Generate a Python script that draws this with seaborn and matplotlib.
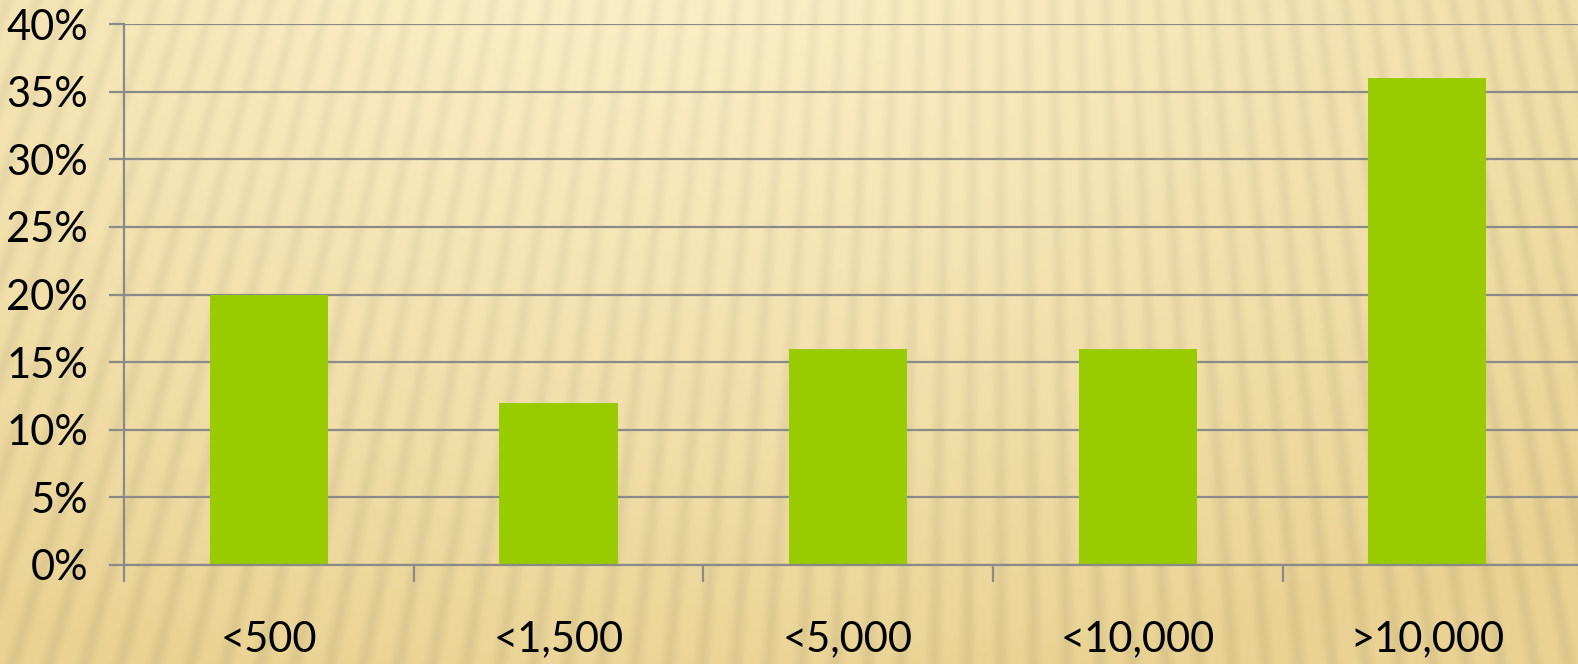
import numpy as np
import pandas as pd
import matplotlib
matplotlib.use("Agg")
import matplotlib.pyplot as plt
import seaborn as sns

# Share of accounts by size bucket
categories = ["<500", "<1,500", "<5,000", "<10,000", ">10,000"]
shares = [20, 12, 16, 16, 36]
y_ticks = [0, 5, 10, 15, 20, 25, 30, 35, 40]
y_tick_labels = [f"{v}%" for v in y_ticks]

sns.set_theme(style="white")
plt.rcParams["font.family"] = ["Lato", "DejaVu Sans"]

W, H = 1578, 664
fig = plt.figure(figsize=(W / 100, H / 100), dpi=100)

# Textured parchment-style backdrop: soft radial gradient with fanned stripes
yy, xx = np.mgrid[0:H, 0:W].astype(float)
t = np.sqrt(((xx - 650) / 1400) ** 2 + ((yy + 100) / 800) ** 2)
t = np.clip(t, 0, 1) ** 1.3
light = np.array([252, 240, 200]) / 255
dark = np.array([234, 211, 148]) / 255
base = light[None, None, :] * (1 - t[..., None]) + dark[None, None, :] * t[..., None]
phase = np.arctan2(xx - 1000, yy + 2600)
s = 0.5 + 0.5 * np.cos(phase * 620)
shade = 1 - 0.06 * s ** 2 * (0.6 + 0.4 * t)
bg = np.clip(base * shade[..., None], 0, 1)

bg_ax = fig.add_axes([0, 0, 1, 1])
bg_ax.imshow(bg, aspect="auto", extent=[0, 1, 0, 1], interpolation="bilinear")
bg_ax.set_axis_off()

left = 124 / W
bottom = (H - 565) / H
top = (H - 24) / H
ax = fig.add_axes([left, bottom, 1 - left, top - bottom])
ax.set_facecolor("none")

df = pd.DataFrame({"category": categories, "share": shares})
sns.barplot(data=df, x="category", y="share", color="#99CC00", width=0.408,
            saturation=1, linewidth=0, edgecolor="none", ax=ax, zorder=3)

grid_color = "#8A8A8A"
ax.set_ylim(0, 40)
ax.set_xlim(-0.5, 4.52)
ax.set_yticks(y_ticks)
ax.set_yticklabels(y_tick_labels)
ax.yaxis.grid(True, color=grid_color, linewidth=1.6, zorder=1)
ax.xaxis.grid(False)
ax.set_axisbelow(True)

ax.set_xticks(range(len(categories)))
ax.set_xticklabels(categories)
ax.set_xticks([i - 0.5 for i in range(len(categories))], minor=True)

ax.tick_params(axis="y", which="major", direction="out", length=10.8, width=1.6,
               color=grid_color, pad=15, labelsize=30, labelcolor="black", left=True)
ax.tick_params(axis="x", which="major", length=0, pad=40, labelsize=30,
               labelcolor="black", bottom=True)
ax.tick_params(axis="x", which="minor", direction="out", length=12, width=1.6,
               color=grid_color, bottom=True)

for side in ["top", "right"]:
    ax.spines[side].set_visible(False)
for side in ["left", "bottom"]:
    ax.spines[side].set_color(grid_color)
    ax.spines[side].set_linewidth(1.6)
    ax.spines[side].set_zorder(4)

ax.set_xlabel("")
ax.set_ylabel("")

fig.savefig("out.png", dpi=100)
